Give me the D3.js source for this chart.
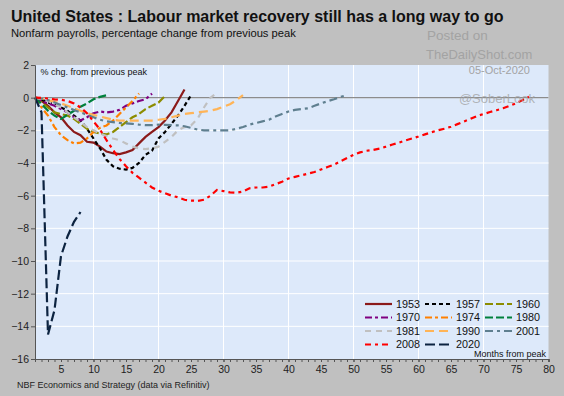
<!DOCTYPE html>
<html>
<head>
<meta charset="utf-8">
<script src="https://cdn.jsdelivr.net/npm/d3@7"></script>
<style>
  html, body { margin: 0; padding: 0; background: #c0c0c0; }
  svg { display: block; font-family: "Liberation Sans", Arial, sans-serif; }
</style>
</head>
<body>
<div class="chart"></div>
<script>
"use strict";

// months from peak, value at month 1 is the peak (0%)
const y1953 = [0, -0.2, -0.5, -0.9, -1.2, -1.7, -2.1, -2.3, -2.7, -2.75, -3.0, -3.3, -3.4, -3.45, -3.35, -3.2, -2.8, -2.4, -2.1, -1.8, -1.4, -0.9, -0.2, 0.5];
const y1957 = [0, -0.1, -0.3, -0.4, -0.6, -0.8, -1.1, -1.4, -1.9, -2.5, -3.1, -3.8, -4.2, -4.35, -4.4, -4.3, -4.0, -3.5, -3.25, -2.5, -2.1, -1.6, -1.1, -0.5, 0.15];
const y1960 = [0, -0.3, -0.6, -0.9, -1.0, -1.1, -1.3, -1.6, -1.9, -2.1, -2.2, -2.25, -2.1, -1.8, -1.5, -1.2, -1.0, -0.7, -0.5, -0.3, 0.1];
const y1970 = [0, -0.2, -0.35, -0.5, -0.7, -0.9, -1.2, -1.4, -1.2, -0.95, -0.85, -0.9, -0.85, -0.75, -0.5, -0.35, -0.2, -0.1, 0.25];
const y1974 = [0, -0.6, -1.1, -1.8, -2.3, -2.6, -2.8, -2.75, -2.5, -2.1, -1.85, -1.7, -1.4, -1.0, -0.6, -0.2, 0.25];
const y1980 = [0, -0.4, -0.8, -1.1, -1.3, -1.05, -0.8, -0.55, -0.35, -0.1, 0.05, 0.15];
const y1981 = [0, -0.1, -0.2, -0.4, -0.6, -0.9, -1.2, -1.5, -1.8, -2.0, -2.2, -2.35, -2.5, -2.6, -2.8, -3.0, -3.1, -3.15, -3.1, -3.0, -2.7, -2.4, -2.0, -1.8, -1.7, -1.3, -0.6, 0, 0.3];
const y1990 = [0, -0.05, -0.15, -0.25, -0.35, -0.5, -0.65, -0.8, -0.95, -1.05, -1.15, -1.25, -1.35, -1.4, -1.4, -1.4, -1.4, -1.4, -1.4, -1.35, -1.3, -1.2, -1.1, -1.0, -0.95, -0.9, -0.85, -0.8, -0.7, -0.55, -0.4, -0.15, 0.15];
const y2001 = [0, -0.05, -0.15, -0.3, -0.45, -0.6, -0.75, -0.9, -1.05, -1.2, -1.35, -1.45, -1.5, -1.55, -1.58, -1.6, -1.65, -1.68, -1.68, -1.65, -1.66, -1.68, -1.7, -1.75, -1.85,
               -1.95, -2.0, -2.0, -2.0, -2.0, -2.0, -1.9, -1.8, -1.65, -1.55, -1.45, -1.35, -1.15, -1.0, -0.85, -0.75, -0.7, -0.65, -0.5, -0.35, -0.22, -0.1, 0.05, 0.15];
const y2008 = [0, -0.02, -0.05, -0.1, -0.13, -0.2, -0.35, -0.6, -0.95, -1.45, -1.95, -2.6, -3.2, -3.75, -4.2, -4.6, -4.9, -5.2, -5.5, -5.7, -5.85, -6.0, -6.1, -6.25, -6.3,
               -6.32, -6.25, -6.0, -5.65, -5.72, -5.8, -5.82, -5.75, -5.55, -5.5, -5.5, -5.45, -5.3, -5.15, -4.95, -4.85, -4.75, -4.65, -4.55, -4.4, -4.25, -4.1, -3.9, -3.7, -3.5,
               -3.35, -3.25, -3.2, -3.12, -3.0, -2.87, -2.75, -2.62, -2.5, -2.38, -2.25, -2.12, -2.0, -1.9, -1.78, -1.62, -1.46, -1.3, -1.12, -1.0, -0.88, -0.77, -0.65, -0.5, -0.35, -0.15, 0.05];
const y2020 = [0, -0.9, -14.5, -13.0, -9.7, -8.5, -7.6, -7.0];

const seriesNames = ["1953", "1957", "1960", "1970", "1974", "1980", "1981", "1990", "2001", "2008", "2020"];
const seriesValues = [y1953, y1957, y1960, y1970, y1974, y1980, y1981, y1990, y2001, y2008, y2020];

const xTicks = [5, 10, 15, 20, 25, 30, 35, 40, 45, 50, 55, 60, 65, 70, 75, 80];
const yTicks = [2, 0, -2, -4, -6, -8, -10, -12, -14, -16];

const styles = {
    "1953": { color: "#8b1a1a", dash: null },
    "1957": { color: "#000000", dash: "4,3" },
    "1960": { color: "#8c8c00", dash: "8,3" },
    "1970": { color: "#800080", dash: "7,3,3,3" },
    "1974": { color: "#ff8000", dash: "7,3,3,3" },
    "1980": { color: "#00803c", dash: "8,3" },
    "1981": { color: "#c0c0c0", dash: "6,5" },
    "1990": { color: "#ffb457", dash: "9,5" },
    "2001": { color: "#5f7f8f", dash: "8,4,3,4" },
    "2008": { color: "#ff0000", dash: "6,4,3,4" },
    "2020": { color: "#0c2340", dash: "10,4" },
};

class RecessionChart {
    constructor (options) {
        this.width = options.width;
        this.height = options.height;
        this.plot = { left: 35, right: 548.5, top: 65, bottom: 359 };

        this.svg = d3.select(options.selector).append("svg")
            .attr("width", this.width)
            .attr("height", this.height);

        this.x = d3.scaleLinear().domain([1, 80]).range([this.plot.left, this.plot.right]);
        this.y = d3.scaleLinear().domain([-16, 2]).range([this.plot.bottom, this.plot.top]);

        this.series = seriesNames.map((name, i) => ({
            name: name,
            values: seriesValues[i].map((v, j) => ({ m: j + 1, v: v })),
            color: styles[name].color,
            dash: styles[name].dash,
        }));
    }

    drawFrame () {
        const svg = this.svg, p = this.plot;

        svg.append("rect").attr("width", this.width).attr("height", this.height).attr("fill", "#c0c0c0");
        svg.append("rect")
            .attr("x", p.left).attr("y", p.top)
            .attr("width", p.right - p.left).attr("height", p.bottom - p.top)
            .attr("fill", "#dde9fa");

        // gridlines
        svg.append("g").selectAll("line")
            .data(d3.range(-14, 2, 2))
            .join("line")
            .attr("x1", p.left).attr("x2", p.right)
            .attr("y1", d => this.y(d)).attr("y2", d => this.y(d))
            .attr("stroke", "#ffffff").attr("stroke-width", 1);
        svg.append("g").selectAll("line")
            .data(d3.range(10, 80, 10))
            .join("line")
            .attr("x1", d => this.x(d)).attr("x2", d => this.x(d))
            .attr("y1", p.top).attr("y2", p.bottom)
            .attr("stroke", "#ffffff").attr("stroke-width", 1);

        // zero line
        svg.append("line")
            .attr("x1", p.left).attr("x2", p.right)
            .attr("y1", this.y(0)).attr("y2", this.y(0))
            .attr("stroke", "#8c8c8c").attr("stroke-width", 1.3);
    }

    drawAxes () {
        const svg = this.svg, p = this.plot;

        const yAxis = d3.axisLeft(this.y).tickValues(yTicks).tickSize(4).tickPadding(2);
        const gy = svg.append("g").attr("transform", `translate(${p.left},0)`).call(yAxis);

        const xMinor = d3.axisBottom(this.x).tickValues(d3.range(1, 81)).tickSize(3).tickFormat("");
        svg.append("g").attr("transform", `translate(0,${p.bottom})`).call(xMinor);

        const xAxis = d3.axisBottom(this.x).tickValues(xTicks).tickSize(3).tickPadding(4);
        const gx = svg.append("g").attr("transform", `translate(0,${p.bottom})`).call(xAxis);

        svg.selectAll(".domain").attr("stroke", "#555555");
        svg.selectAll(".tick line").attr("stroke", "#555555");
        [gx, gy].forEach(g => g.selectAll("text")
            .attr("fill", "#222222")
            .style("font-size", "10.5px")
            .style("font-family", "'Liberation Sans', Arial, sans-serif"));
    }

    drawLines () {
        const line = d3.line()
            .x(d => this.x(d.m))
            .y(d => this.y(d.v));

        this.svg.append("g").selectAll("path")
            .data(this.series)
            .join("path")
            .attr("fill", "none")
            .attr("stroke", d => d.color)
            .attr("stroke-width", 2.2)
            .attr("stroke-dasharray", d => d.dash)
            .attr("d", d => line(d.values));
    }

    drawLegend () {
        const colX = [365, 425, 485];
        const rowY = [304, 317.5, 331, 344.5];
        const g = this.svg.append("g");

        const item = g.selectAll("g")
            .data(this.series)
            .join("g")
            .attr("transform", (d, i) => `translate(${colX[i % 3]},${rowY[Math.floor(i / 3)]})`);

        item.append("line")
            .attr("x1", 0).attr("x2", 27)
            .attr("stroke", d => d.color)
            .attr("stroke-width", 2.2)
            .attr("stroke-dasharray", d => d.dash);

        item.append("text")
            .attr("x", 31).attr("dy", "0.36em")
            .style("font-size", "10.8px")
            .attr("fill", "#111111")
            .text(d => d.name);
    }

    drawText () {
        const svg = this.svg;

        svg.append("text").attr("x", 11).attr("y", 22)
            .style("font-size", "16px").style("font-weight", "bold")
            .attr("fill", "#111111")
            .text("United States : Labour market recovery still has a long way to go");
        svg.append("text").attr("x", 11).attr("y", 36.5)
            .style("font-size", "11.2px")
            .attr("fill", "#111111")
            .text("Nonfarm payrolls, percentage change from previous peak");

        // watermark
        svg.append("text").attr("x", 427).attr("y", 40)
            .style("font-size", "13.5px").attr("fill", "#a3a3a3").text("Posted on");
        svg.append("text").attr("x", 426).attr("y", 59)
            .style("font-size", "13px").attr("fill", "#a3a3a3").text("TheDailyShot.com");
        svg.append("text").attr("x", 530).attr("y", 74).attr("text-anchor", "end")
            .style("font-size", "11px").attr("fill", "#a3a3a3").text("05-Oct-2020");
        svg.append("text").attr("x", 535).attr("y", 103).attr("text-anchor", "end")
            .style("font-size", "13px").attr("fill", "#a0a0a0").attr("fill-opacity", 0.75).text("@SoberLook");

        svg.append("text").attr("x", 40.5).attr("y", 75)
            .style("font-size", "9px").attr("fill", "#111111")
            .text("% chg. from previous peak");
        svg.append("text").attr("x", 546).attr("y", 356.5).attr("text-anchor", "end")
            .style("font-size", "9px").attr("fill", "#111111")
            .text("Months from peak");

        svg.append("text").attr("x", 17).attr("y", 388)
            .style("font-size", "9px").attr("fill", "#222222")
            .text("NBF Economics and Strategy (data via Refinitiv)");
    }

    render () {
        this.drawFrame();
        this.drawLines();
        this.drawAxes();
        this.drawLegend();
        this.drawText();
    }
}

const chart = new RecessionChart({ selector: ".chart", width: 564, height: 396 });
chart.render();
</script>
</body>
</html>
